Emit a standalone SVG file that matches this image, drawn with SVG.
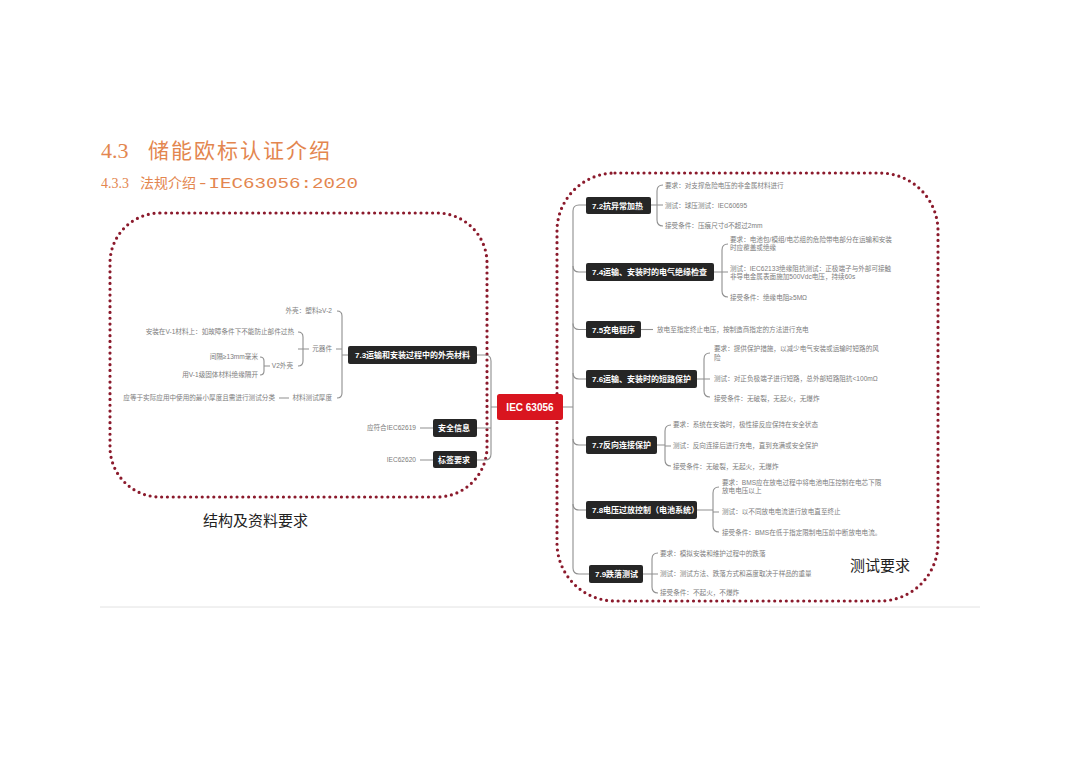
<svg xmlns="http://www.w3.org/2000/svg" width="1080" height="764" viewBox="0 0 1080 764">
<style>
.t{font-family:"Liberation Sans","Noto Sans CJK SC",sans-serif;font-size:6.6px;fill:#7d7d7d}
.e{text-anchor:end}
.n{fill:#262626}
.nt{font-family:"Liberation Sans","Noto Sans CJK SC",sans-serif;font-size:8px;font-weight:bold;fill:#fff}
.c{fill:none;stroke:#8f8f8f;stroke-width:1.1}
.dot{fill:none;stroke:#8b1a2c;stroke-width:3.2;stroke-dasharray:0 5.8;stroke-linecap:round}
.lbl{font-family:"Liberation Sans","Noto Sans CJK SC",sans-serif;font-size:15px;fill:#222}
.ttl{font-family:"Liberation Serif","Noto Sans CJK SC",serif;fill:#e3864f}
</style>
<rect width="1080" height="764" fill="#fff"/>
<g id="title">
<text class="ttl" x="101" y="158" font-size="22">4.3</text>
<text class="ttl" x="148" y="158" font-size="21" textLength="182" lengthAdjust="spacing">储能欧标认证介绍</text>
<text class="ttl" x="101" y="188" font-size="14">4.3.3</text>
<text class="ttl" x="140" y="188" font-size="14">法规介绍</text>
<text x="197" y="188" font-family="Liberation Mono,monospace" font-size="15" fill="#e3864f" textLength="161" lengthAdjust="spacingAndGlyphs">-IEC63056:2020</text>
</g>
<line x1="100" y1="607" x2="980" y2="607" stroke="#e2e2e2" stroke-width="1"/>
<g id="frames">
<rect class="dot" x="110" y="213" width="377" height="284" rx="50"/>
<rect class="dot" x="557" y="173" width="381" height="428" rx="58"/>
</g>
<g id="connectors">
<path class="c" d="M497,407 H491 M477,355 H485 Q491,355 491,361 V454 Q491,460 485,460 H477 M477,428 H491"/>
<path class="c" d="M348,355 H342 M337,311 Q342,311 342,316 V393 Q342,398 337,398 M342,349 H336"/>
<path class="c" d="M309,349 H303 M298,332 Q303,332 303,337 V361 Q303,366 298,366 M303,349 H298"/>
<path class="c" d="M270,366 H264 M260,357 Q264,357 264,361 V371 Q264,375 260,375"/>
<path class="c" d="M279,398 H289 M420,428 H433 M420,460 H433"/>
<path class="c" d="M563,407 H573 M586,205 H579 Q573,205 573,211 V568 Q573,574 579,574 H589"/>
<path class="c" d="M573,266 Q573,272 579,272 H586 M573,323.5 Q573,329.5 579,329.5 H586 M573,373 Q573,379 579,379 H586 M573,439 Q573,445 579,445 H586 M573,504 Q573,510 579,510 H586"/>
<path class="c" d="M651,205 H657 M663,185 Q657,185 657,191 V220 Q657,226 663,226 M657,205 H663"/>
<path class="c" d="M714,272 H722 M728,244 Q722,244 722,250 V291 Q722,297 728,297 M722,272 H728"/>
<path class="c" d="M641,329.5 H653"/>
<path class="c" d="M697,379 H704 M710,353 Q704,353 704,359 V391 Q704,397 710,397 M704,379 H710"/>
<path class="c" d="M657,445 H665 M671,425 Q665,425 665,431 V460 Q665,466 671,466 M665,446 H671"/>
<path class="c" d="M697,510 H713 M719,487 Q713,487 713,493 V526 Q713,532 719,532 M713,512 H719"/>
<path class="c" d="M643,574 H652 M658,553 Q652,553 652,559 V587 Q652,593 658,593 M652,574 H658"/>
</g>
<g id="iec">
<rect x="497" y="394" width="66" height="26" rx="2.5" fill="#d9151f"/>
<text x="530" y="410.5" text-anchor="middle" font-family="Liberation Sans,sans-serif" font-size="10" font-weight="bold" fill="#fff">IEC 63056</text>
</g>
<g id="n73">
<rect class="n" x="348" y="346" width="129" height="18" rx="2"/>
<text class="nt" x="355" y="358">7.3运输和安装过程中的外壳材料</text>
<text class="t e" x="332" y="313.3">外壳：塑料≥V-2</text>
<text class="t e" x="332" y="351.3">元器件</text>
<text class="t e" x="294" y="334.3">安装在V-1材料上：如故障条件下不能防止部件过热</text>
<text class="t e" x="293" y="368.3">V2外壳</text>
<text class="t e" x="258" y="359.3">间隔≥13mm毫米</text>
<text class="t e" x="258" y="377.3">用V-1级固体材料绝缘隔开</text>
<text class="t e" x="332" y="400.3">材料测试厚度</text>
<text class="t e" x="275" y="400.3">应等于实际应用中使用的最小厚度且需进行测试分类</text>
</g>
<g id="nsafe">
<rect class="n" x="433" y="419" width="44" height="18" rx="2"/>
<text class="nt" x="438" y="431">安全信息</text>
<text class="t e" x="416" y="430.3">应符合IEC62619</text>
</g>
<g id="nlabel">
<rect class="n" x="433" y="451" width="44" height="17" rx="2"/>
<text class="nt" x="438" y="462.5">标签要求</text>
<text class="t e" x="416" y="462.3">IEC62620</text>
</g>
<g id="n72">
<rect class="n" x="586" y="197" width="65" height="17" rx="2"/>
<text class="nt" x="592" y="208.5">7.2抗异常加热</text>
<text class="t" x="665" y="187.5">要求：对支撑危险电压的非金属材料进行</text>
<text class="t" x="665" y="207.5">测试：球压测试：IEC60695</text>
<text class="t" x="665" y="228.3">接受条件：压痕尺寸d不超过2mm</text>
</g>
<g id="n74">
<rect class="n" x="586" y="263" width="128" height="18" rx="2"/>
<text class="nt" x="592" y="275">7.4运输、安装时的电气绝缘检查</text>
<text class="t" x="730" y="242.3">要求：电池包/模组/电芯组的危险带电部分在运输和安装</text>
<text class="t" x="730" y="250.3">时应覆盖或绝缘</text>
<text class="t" x="730" y="271.3">测试：IEC62133绝缘阻抗测试：正极端子与外部可接触</text>
<text class="t" x="730" y="279.3">非导电金属表面施加500Vdc电压，持续60s</text>
<text class="t" x="730" y="300.3">接受条件：绝缘电阻≥5MΩ</text>
</g>
<g id="n75">
<rect class="n" x="586" y="321" width="55" height="17" rx="2"/>
<text class="nt" x="592" y="332.5">7.5充电程序</text>
<text class="t" x="657" y="331.8">放电至指定终止电压，按制造商指定的方法进行充电</text>
</g>
<g id="n76">
<rect class="n" x="586" y="370" width="111" height="18" rx="2"/>
<text class="nt" x="592" y="382">7.6运输、安装时的短路保护</text>
<text class="t" x="714" y="351.3">要求：提供保护措施，以减少电气安装或运输时短路的风</text>
<text class="t" x="714" y="360.3">险</text>
<text class="t" x="714" y="381.3">测试：对正负极端子进行短路，总外部短路阻抗&lt;100mΩ</text>
<text class="t" x="714" y="401.3">接受条件：无破裂，无起火，无爆炸</text>
</g>
<g id="n77">
<rect class="n" x="586" y="436" width="71" height="18" rx="2"/>
<text class="nt" x="592" y="448">7.7反向连接保护</text>
<text class="t" x="673" y="427.3">要求：系统在安装时，极性接反应保持在安全状态</text>
<text class="t" x="673" y="448.3">测试：反向连接后进行充电，直到充满或安全保护</text>
<text class="t" x="673" y="469.3">接受条件：无破裂，无起火，无爆炸</text>
</g>
<g id="n78">
<rect class="n" x="586" y="501" width="111" height="18" rx="2"/>
<text class="nt" x="592" y="513">7.8电压过放控制（电池系统）</text>
<text class="t" x="722" y="485.3">要求：BMS应在放电过程中将电池电压控制在电芯下限</text>
<text class="t" x="722" y="493.3">放电电压以上</text>
<text class="t" x="722" y="514.3">测试：以不同放电电流进行放电直至终止</text>
<text class="t" x="722" y="535.3">接受条件：BMS在低于指定限制电压前中断放电电流。</text>
</g>
<g id="n79">
<rect class="n" x="589" y="565" width="54" height="18" rx="2"/>
<text class="nt" x="595" y="577">7.9跌落测试</text>
<text class="t" x="660" y="556.3">要求：模拟安装和维护过程中的跌落</text>
<text class="t" x="660" y="576.3">测试：测试方法、跌落方式和高度取决于样品的重量</text>
<text class="t" x="660" y="595.3">接受条件：不起火，不爆炸</text>
</g>
<g id="labels">
<text class="lbl" x="203" y="526">结构及资料要求</text>
<text class="lbl" x="850" y="571" font-size="15.5">测试要求</text>
</g>
</svg>
